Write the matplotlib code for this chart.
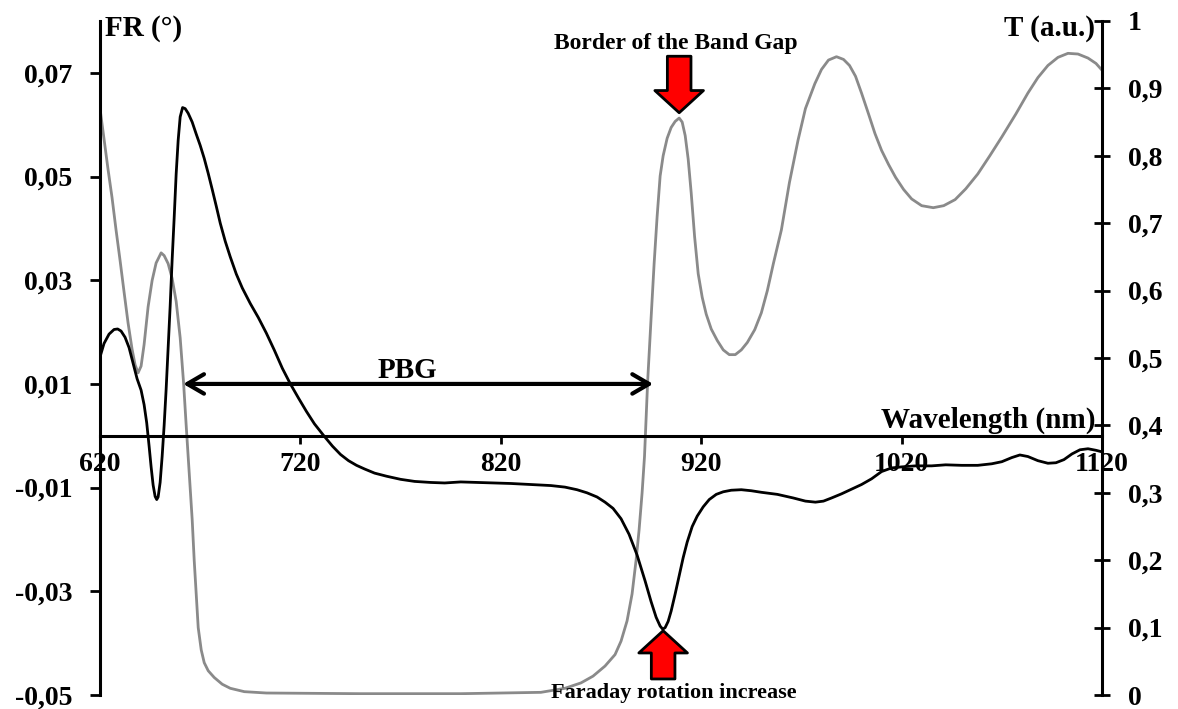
import matplotlib
matplotlib.use("Agg")
import matplotlib.pyplot as plt

plt.rcParams['font.family'] = ['Liberation Serif', 'DejaVu Serif']
plt.rcParams['font.weight'] = 'bold'

# Faraday rotation (left axis)
fr_wl = [620, 622, 624.5, 627, 628.8, 630.5, 632.5, 634.5, 636.5, 638.5, 640.5,
         642, 643.3, 644.5, 645.5, 646.5, 647.5, 648.3, 649, 650, 651, 652, 653,
         654, 655, 656, 657, 658, 659, 660, 661.2, 662.5, 664, 666, 668, 670,
         672, 674, 676, 678, 680, 682.5, 685, 688, 691, 695, 699, 703, 707, 711,
         715, 719, 723, 727, 731.7, 736, 740, 744, 748, 752, 757, 763, 770, 777,
         785, 792, 800, 808, 815, 825, 835, 845, 852, 858, 863, 868, 872, 876,
         880, 884, 888, 892, 895, 897.5, 899.5, 900.8, 902, 903.5, 905, 907, 909,
         911, 913, 915.5, 918, 921, 924, 927.5, 931, 935, 940, 945, 950, 958,
         966, 972, 977, 981, 985, 990, 995, 1000, 1005, 1010, 1015, 1020, 1027,
         1035, 1042, 1050, 1058, 1065, 1070, 1075, 1079, 1083, 1088, 1093, 1097,
         1101, 1105, 1109, 1113, 1117, 1120]
fr_val = [0.0152, 0.0178, 0.0196, 0.0205, 0.0206, 0.0202, 0.0190, 0.0170,
          0.0140, 0.0110, 0.0088, 0.0060, 0.0025, -0.0020, -0.0060, -0.0095,
          -0.0117, -0.0123, -0.0118, -0.0090, -0.0040, 0.0020, 0.0090, 0.0170,
          0.0250, 0.0340, 0.0420, 0.0505, 0.0570, 0.0615, 0.0633, 0.0631, 0.0622,
          0.0605, 0.0582, 0.0560, 0.0535, 0.0506, 0.0475, 0.0443, 0.0410, 0.0375,
          0.0345, 0.0312, 0.0285, 0.0255, 0.0228, 0.0198, 0.0165, 0.0130, 0.0100,
          0.0073, 0.0047, 0.0023, 0.0000, -0.0020, -0.0036, -0.0048, -0.0057,
          -0.0064, -0.0072, -0.0078, -0.0084, -0.0088, -0.0090, -0.0091, -0.0089,
          -0.0090, -0.0091, -0.0092, -0.0094, -0.0096, -0.0099, -0.0104, -0.0110,
          -0.0118, -0.0128, -0.0140, -0.0160, -0.0190, -0.0230, -0.0280, -0.0320,
          -0.0350, -0.0367, -0.0373, -0.0370, -0.0358, -0.0338, -0.0305, -0.0270,
          -0.0235, -0.0205, -0.0175, -0.0155, -0.0137, -0.0123, -0.0113, -0.0108,
          -0.0105, -0.0104, -0.0106, -0.0109, -0.0113, -0.0120, -0.0126, -0.0128,
          -0.0126, -0.0120, -0.0112, -0.0103, -0.0094, -0.0083, -0.0069, -0.0062,
          -0.0060, -0.0058, -0.0058, -0.0056, -0.0057, -0.0057, -0.0054, -0.0050,
          -0.0042, -0.0037, -0.0040, -0.0048, -0.0053, -0.0052, -0.0046, -0.0035,
          -0.0027, -0.0025, -0.0028, -0.0031]

# Transmission (right axis)
t_wl = [620, 622, 624, 626, 628, 630, 632, 634, 636, 637.5, 639, 640.5, 642,
        644, 646, 648, 650.5, 652, 654, 656, 658, 660, 661.7, 663, 664.5, 666,
        667, 668, 669, 670.5, 672, 674, 677, 681, 685, 692, 703, 750, 800, 840,
        852, 860, 866, 872, 877, 880, 883, 885.5, 887.5, 889, 890.5, 891.7,
        893.3, 895, 896.5, 898, 899.5, 901, 903, 905, 907, 909, 910.5, 912,
        913.5, 915, 916.7, 918.5, 920.5, 922.5, 925, 928, 931, 934, 937, 940,
        943, 946.7, 950, 953, 956, 960, 964, 968.3, 972, 976.7, 980, 983.5,
        987.5, 991, 994, 997, 1000, 1003.5, 1006.7, 1010, 1013.5, 1017, 1021,
        1025, 1030, 1035.8, 1041, 1046.7, 1052, 1058, 1064, 1070, 1077, 1083,
        1088, 1093, 1098, 1103, 1108, 1113, 1117, 1120]
t_val = [0.870, 0.825, 0.780, 0.738, 0.690, 0.645, 0.598, 0.552, 0.513, 0.490,
         0.478, 0.488, 0.520, 0.576, 0.615, 0.641, 0.656, 0.652, 0.640, 0.618,
         0.584, 0.530, 0.463, 0.400, 0.330, 0.260, 0.200, 0.150, 0.100, 0.067,
         0.048, 0.036, 0.026, 0.016, 0.010, 0.005, 0.003, 0.002, 0.002, 0.004,
         0.010, 0.018, 0.028, 0.043, 0.060, 0.080, 0.110, 0.150, 0.200, 0.245,
         0.300, 0.354, 0.467, 0.560, 0.640, 0.710, 0.770, 0.800, 0.826, 0.842,
         0.851, 0.856, 0.850, 0.830, 0.795, 0.745, 0.680, 0.625, 0.590, 0.565,
         0.543, 0.526, 0.512, 0.505, 0.505, 0.512, 0.523, 0.542, 0.567, 0.600,
         0.640, 0.690, 0.760, 0.823, 0.870, 0.907, 0.928, 0.942, 0.947, 0.943,
         0.934, 0.918, 0.893, 0.862, 0.833, 0.808, 0.787, 0.768, 0.750, 0.736,
         0.726, 0.723, 0.726, 0.735, 0.751, 0.773, 0.800, 0.828, 0.862, 0.893,
         0.916, 0.934, 0.946, 0.952, 0.951, 0.945, 0.937, 0.927]

x_ticks = [620, 720, 820, 920, 1020, 1120]
fr_ticks = [-0.05, -0.03, -0.01, 0.01, 0.03, 0.05, 0.07]
fr_labels = ['-0,05', '-0,03', '-0,01', '0,01', '0,03', '0,05', '0,07']
t_ticks = [0, 0.1, 0.2, 0.3, 0.4, 0.5, 0.6, 0.7, 0.8, 0.9, 1]
t_labels = ['0', '0,1', '0,2', '0,3', '0,4', '0,5', '0,6', '0,7', '0,8', '0,9', '1']

fig = plt.figure(figsize=(11.78, 7.09), dpi=100)
ax = fig.add_axes([0.0849, 0.0197, 0.8506, 0.9507])
ax2 = ax.twinx()

ax2.plot(t_wl, t_val, color='#8a8a8a', lw=2.0, solid_joinstyle='round')
ax.plot(fr_wl, fr_val, color='black', lw=2.0, solid_joinstyle='round')

ax.set_zorder(ax2.get_zorder() + 1)
ax.patch.set_visible(False)

ax.set_xlim(620, 1120)
ax.set_ylim(-0.05, 0.08)
ax2.set_ylim(0, 1)

for s in ['top', 'right']:
    ax.spines[s].set_visible(False)
for s in ['top', 'left', 'bottom']:
    ax2.spines[s].set_visible(False)
ax.spines['bottom'].set_position(('data', 0))
ax.spines['left'].set_linewidth(2.2)
ax.spines['bottom'].set_linewidth(2.2)
ax2.spines['right'].set_linewidth(2.2)

ax.set_xticks(x_ticks)
ax.set_xticklabels([str(v) for v in x_ticks])
ax.set_yticks(fr_ticks)
ax.set_yticklabels(fr_labels)
ax2.set_yticks(t_ticks)
ax2.set_yticklabels(t_labels)

ax.tick_params(axis='x', direction='out', length=6, width=2, pad=6, labelsize=20)
ax.tick_params(axis='y', direction='out', length=7, width=2, pad=13, labelsize=20)
ax2.tick_params(axis='y', direction='inout', length=11, width=2, pad=13, labelsize=20)

ax.text(622.5, 0.0785, 'FR (°)', fontsize=21, ha='left', va='center')
ax.text(1116.5, 0.0785, 'T (a.u.)', fontsize=21, ha='right', va='center')
ax.text(1116.5, 0.0015, 'Wavelength (nm)', fontsize=21, ha='right', va='baseline')
ax.text(773.5, 0.0112, 'PBG', fontsize=21, ha='center', va='baseline')
ax.text(907.5, 0.0746, 'Border of the Band Gap', fontsize=17, ha='center', va='baseline')
ax.text(906.5, -0.0506, 'Faraday rotation increase', fontsize=16, ha='center', va='baseline')

# PBG double arrow
ax.annotate('', xy=(661.5, 0.01), xytext=(896, 0.01),
            arrowprops=dict(arrowstyle='<->, head_length=0.6, head_width=0.35',
                            color='black', lw=3, shrinkA=0, shrinkB=0,
                            mutation_scale=20))

# red block arrows
red_arrow = dict(arrowstyle='simple, head_length=16, head_width=35, tail_width=17',
                 facecolor='red', edgecolor='black', lw=2, shrinkA=0, shrinkB=0,
                 mutation_scale=1)
ax.annotate('', xy=(909, 0.0623), xytext=(909, 0.0732), arrowprops=red_arrow)
ax.annotate('', xy=(901, -0.0376), xytext=(901, -0.0469), arrowprops=red_arrow)

fig.savefig('out.png', dpi=100)
